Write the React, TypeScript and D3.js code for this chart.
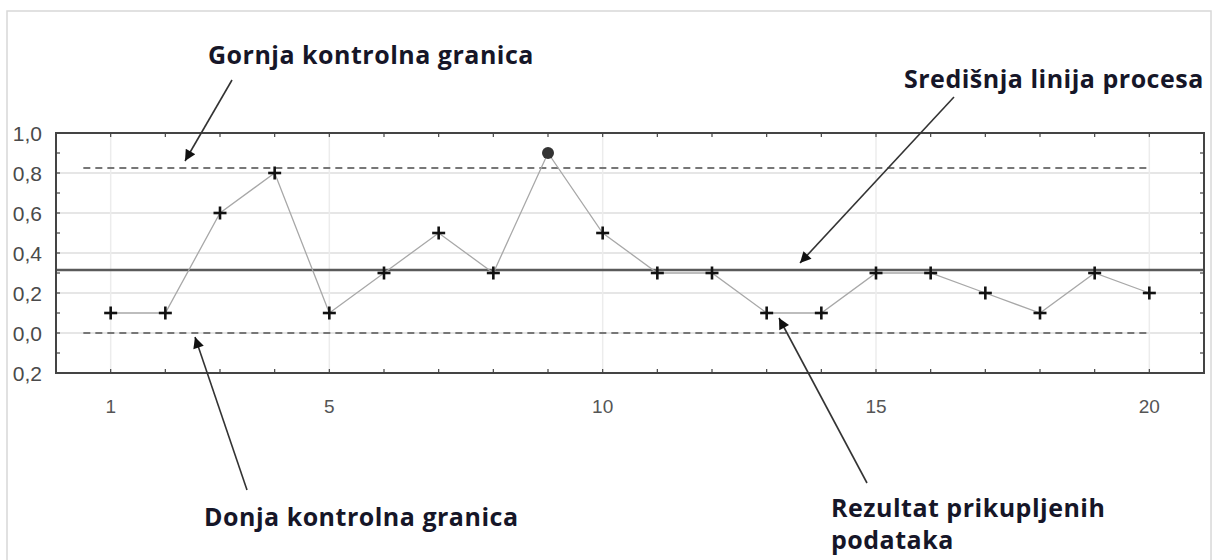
import React from "react";
import * as d3 from "d3";

const samples = [1, 2, 3, 4, 5, 6, 7, 8, 9, 10, 11, 12, 13, 14, 15, 16, 17, 18, 19, 20];
const values = [0.1, 0.1, 0.6, 0.8, 0.1, 0.3, 0.5, 0.3, 0.9, 0.5, 0.3, 0.3, 0.1, 0.1, 0.3, 0.3, 0.2, 0.1, 0.3, 0.2];
const outOfControl = [false, false, false, false, false, false, false, false, true, false, false, false, false, false, false, false, false, false, false, false];
const yTicks = [1.0, 0.8, 0.6, 0.4, 0.2, 0.0, -0.2];
const yTickLabels = ["1,0", "0,8", "0,6", "0,4", "0,2", "0,0", "0,2"];
const xTicks = [1, 5, 10, 15, 20];
const ucl = 0.825;
const centerLine = 0.315;
const lcl = 0.0;
const annotations = [
  { lines: ["Gornja kontrolna granica"] },
  { lines: ["Središnja linija procesa"] },
  { lines: ["Donja kontrolna granica"] },
  { lines: ["Rezultat prikupljenih", "podataka"] },
];

export default function App() {
  const W = 1218, H = 560;
  const left = 56, right = 1204, top = 133, bottom = 373;
  const x = d3.scaleLinear().domain([0, 21]).range([left, right]);
  const y = d3.scaleLinear().domain([-0.2, 1.0]).range([bottom, top]);
  const line = d3.line<number>().x((_, i) => x(samples[i])).y((v) => y(v));
  const minorY = d3.range(-2, 11).map((k) => k / 10);
  const minorX = d3.range(1, 21);

  const annFont = "'Open Sans', 'Noto Sans', sans-serif";
  const annPos = [
    { x: 208, y: 64, size: 25 },
    { x: 904, y: 88, size: 25 },
    { x: 204, y: 526, size: 25 },
    { x: 831, y: 517, size: 25 },
  ];
  const arrows = [
    { x1: 232, y1: 80, x2: 185, y2: 161 },
    { x1: 954, y1: 97, x2: 800, y2: 263 },
    { x1: 247, y1: 490, x2: 195, y2: 337 },
    { x1: 867, y1: 483, x2: 779, y2: 318 },
  ];

  return (
    <svg width={W} height={H} style={{ position: "absolute", left: 0, top: 0, background: "#fff" }}>
      <defs>
        <marker id="ah" viewBox="0 0 10 10" refX="10" refY="5" markerWidth="16" markerHeight="11" markerUnits="userSpaceOnUse" orient="auto">
          <path d="M0,0 L10,5 L0,10 z" fill="#111" />
        </marker>
      </defs>
      <rect x={7} y={11} width={1204} height={560} fill="none" stroke="#d8d8d8" strokeWidth={1.5} />
      {/* grid */}
      {yTicks.filter((t) => t > -0.2 && t < 1.0).map((t) => (
        <line key={"gy" + t} x1={left} x2={right} y1={y(t)} y2={y(t)} stroke="#e6e6e6" strokeWidth={2} />
      ))}
      {xTicks.map((t) => (
        <line key={"gx" + t} x1={x(t)} x2={x(t)} y1={top} y2={bottom} stroke="#ececec" strokeWidth={1.5} />
      ))}
      {/* control limits */}
      <line x1={x(0.5)} x2={x(20)} y1={y(ucl)} y2={y(ucl)} stroke="#777" strokeWidth={2} strokeDasharray="7 5" />
      <line x1={x(0.5)} x2={x(20)} y1={y(lcl)} y2={y(lcl)} stroke="#777" strokeWidth={2} strokeDasharray="7 5" />
      <line x1={left} x2={right} y1={y(centerLine)} y2={y(centerLine)} stroke="#5a5a5a" strokeWidth={2.5} />
      {/* data line */}
      <path d={line(values) || ""} fill="none" stroke="#a8a8a8" strokeWidth={1.3} />
      {values.map((v, i) =>
        outOfControl[i] ? (
          <circle key={"m" + i} cx={x(samples[i])} cy={y(v)} r={6} fill="#333" />
        ) : (
          <g key={"m" + i} stroke="#111" strokeWidth={2.6}>
            <line x1={x(samples[i]) - 6.5} x2={x(samples[i]) + 6.5} y1={y(v)} y2={y(v)} />
            <line x1={x(samples[i])} x2={x(samples[i])} y1={y(v) - 6.5} y2={y(v) + 6.5} />
          </g>
        )
      )}
      {/* frame */}
      <rect x={left} y={top} width={right - left} height={bottom - top} fill="none" stroke="#444" strokeWidth={2} />
      {minorY.map((t) => (
        <g key={"ty" + t} stroke="#444" strokeWidth={1.2}>
          <line x1={left} x2={left + 4} y1={y(t)} y2={y(t)} />
          <line x1={right} x2={right - 4} y1={y(t)} y2={y(t)} />
        </g>
      ))}
      {minorX.map((t) => (
        <g key={"tx" + t} stroke="#444" strokeWidth={1.2}>
          <line x1={x(t)} x2={x(t)} y1={bottom} y2={bottom - 4} />
          <line x1={x(t)} x2={x(t)} y1={top} y2={top + 4} />
        </g>
      ))}
      {/* tick labels */}
      {yTicks.map((t, i) => (
        <text key={"ly" + t} x={42} y={y(t) + 7.5} textAnchor="end" fontFamily="'Liberation Sans', Arial, sans-serif" fontSize={21} fill="#4a4a4a">
          {yTickLabels[i]}
        </text>
      ))}
      {xTicks.map((t) => (
        <text key={"lx" + t} x={x(t)} y={413} textAnchor="middle" fontFamily="'Liberation Sans', Arial, sans-serif" fontSize={19} fill="#555">
          {t}
        </text>
      ))}
      {/* annotations */}
      {arrows.map((a, i) => (
        <line key={"ar" + i} x1={a.x1} y1={a.y1} x2={a.x2} y2={a.y2} stroke="#333" strokeWidth={1.6} markerEnd="url(#ah)" />
      ))}
      {annotations.map((a, i) => (
        <text key={"an" + i} x={annPos[i].x} y={annPos[i].y} fontFamily={annFont} fontWeight={700} fontSize={annPos[i].size} letterSpacing={0.5} fill="#161628">
          {a.lines.map((l, j) => (
            <tspan key={j} x={annPos[i].x} dy={j === 0 ? 0 : 32}>{l}</tspan>
          ))}
        </text>
      ))}
    </svg>
  );
}
